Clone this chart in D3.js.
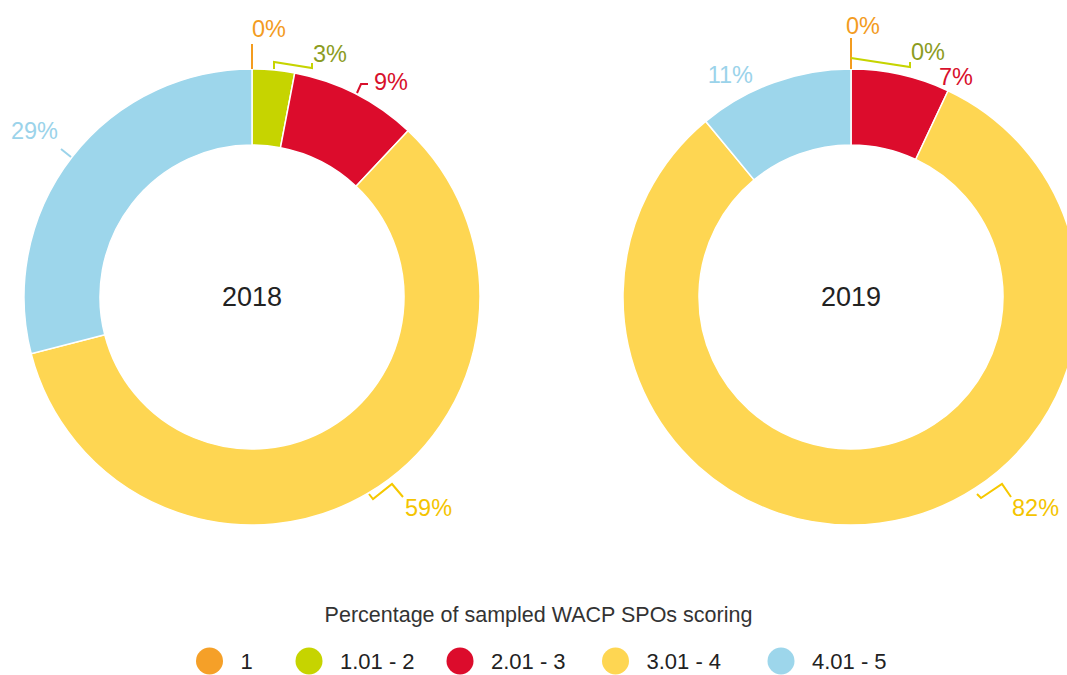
<!DOCTYPE html>
<html>
<head>
<meta charset="utf-8">
<script src="https://cdn.jsdelivr.net/npm/d3@7"></script>
<style>
  body { margin: 0; background: #fff; }
  svg { display: block; font-family: "Liberation Sans", Arial, Helvetica, sans-serif; }
</style>
</head>
<body>
<div id="chart"></div>
<script>
"use strict";

// data
const categories = ["1", "1.01 - 2", "2.01 - 3", "3.01 - 4", "4.01 - 5"];
const years = ["2018", "2019"];
const values2018 = [0, 3, 9, 59, 29];
const values2019 = [0, 0, 7, 82, 11];
const legendTitle = "Percentage of sampled WACP SPOs scoring";

// styles
const sliceColors = ["#f5a028", "#c6d400", "#dc0c2c", "#fed652", "#9dd6eb"];
const textColors = ["#f39c1f", "#8c9c1f", "#d8102c", "#f4c400", "#9bd3ea"];

const msm = {
    width: 1067,
    height: 675,
    outer: 228,
    inner: 152,
    cy: 297,
    centers: [252, 851]
}

// legend swatch centres
const legendX = [209.5, 309, 460, 615.5, 781];

// label callouts, offsets from the donut centre (leader points, text anchor)
const labelLayout = [
    [
        { leader: [[0, -228], [0, -253]], text: [0, -260], anchor: "start" },
        { leader: [[22, -228], [22, -235], [60, -229], [60, -234]], text: [61, -235], anchor: "start" },
        { leader: [[105, -204], [109, -213], [116, -213]], text: [122, -207], anchor: "start" },
        { leader: [[117, 197], [121, 202], [140, 187], [151, 200]], text: [153, 219], anchor: "start" },
        { leader: [[-181, -140], [-191, -148]], text: [-194, -158], anchor: "end" }
    ],
    [
        { leader: [[0, -228], [0, -259]], text: [-5, -263], anchor: "start" },
        { leader: [[0, -239], [59, -230], [59, -235]], text: [60, -237], anchor: "start" },
        { leader: null, text: [88, -212], anchor: "start" },
        { leader: [[126, 197], [130, 201], [151, 187], [160, 200]], text: [161, 219], anchor: "start" },
        { leader: null, text: [-98, -214], anchor: "end" }
    ]
];

const svg = d3.select("#chart")
    .append("svg")
    .attr("width", msm.width)
    .attr("height", msm.height);

const pie = d3.pie().sort(null).value((d) => d);
const arc = d3.arc().innerRadius(msm.inner).outerRadius(msm.outer);
const line = d3.line();

[values2018, values2019].forEach((values, i) => {
    const g = svg.append("g")
        .attr("transform", "translate(" + msm.centers[i] + "," + msm.cy + ")");

    g.selectAll(".slice")
        .data(pie(values))
        .enter()
        .append("path")
        .attr("class", "slice")
        .attr("d", arc)
        .attr("fill", (d) => sliceColors[d.index])
        .attr("stroke", "#fff")
        .attr("stroke-width", (d) => d.value > 0 ? 1.5 : 0);

    const layout = labelLayout[i];

    g.selectAll(".leader")
        .data(layout.map((l, k) => ({ l: l, k: k })).filter((o) => o.l.leader))
        .enter()
        .append("path")
        .attr("class", "leader")
        .attr("d", (o) => line(o.l.leader))
        .attr("fill", "none")
        .attr("stroke", (o) => o.k === 1 ? sliceColors[1] : (o.k === 3 ? "#f6c800" : textColors[o.k]))
        .attr("stroke-width", 2);

    g.selectAll(".pct")
        .data(values)
        .enter()
        .append("text")
        .attr("class", "pct")
        .attr("x", (d, k) => layout[k].text[0])
        .attr("y", (d, k) => layout[k].text[1])
        .attr("text-anchor", (d, k) => layout[k].anchor)
        .attr("fill", (d, k) => textColors[k])
        .style("font-size", "23.5px")
        .text((d) => d + "%");

    g.append("text")
        .attr("x", 0)
        .attr("y", 9)
        .attr("text-anchor", "middle")
        .attr("fill", "#222")
        .style("font-size", "27px")
        .text(years[i]);
});

// legend
svg.append("text")
    .attr("x", 538.5)
    .attr("y", 622)
    .attr("text-anchor", "middle")
    .attr("fill", "#333")
    .style("font-size", "21.5px")
    .text(legendTitle);

const legend = svg.selectAll(".legend-item")
    .data(categories)
    .enter()
    .append("g")
    .attr("class", "legend-item")
    .attr("transform", (d, k) => "translate(" + legendX[k] + ",0)");

legend.append("circle")
    .attr("cx", 0)
    .attr("cy", 661)
    .attr("r", 13.5)
    .attr("fill", (d, k) => sliceColors[k]);

legend.append("text")
    .attr("x", 31)
    .attr("y", 669)
    .attr("fill", "#222")
    .style("font-size", "22px")
    .text((d) => d);
</script>
</body>
</html>
